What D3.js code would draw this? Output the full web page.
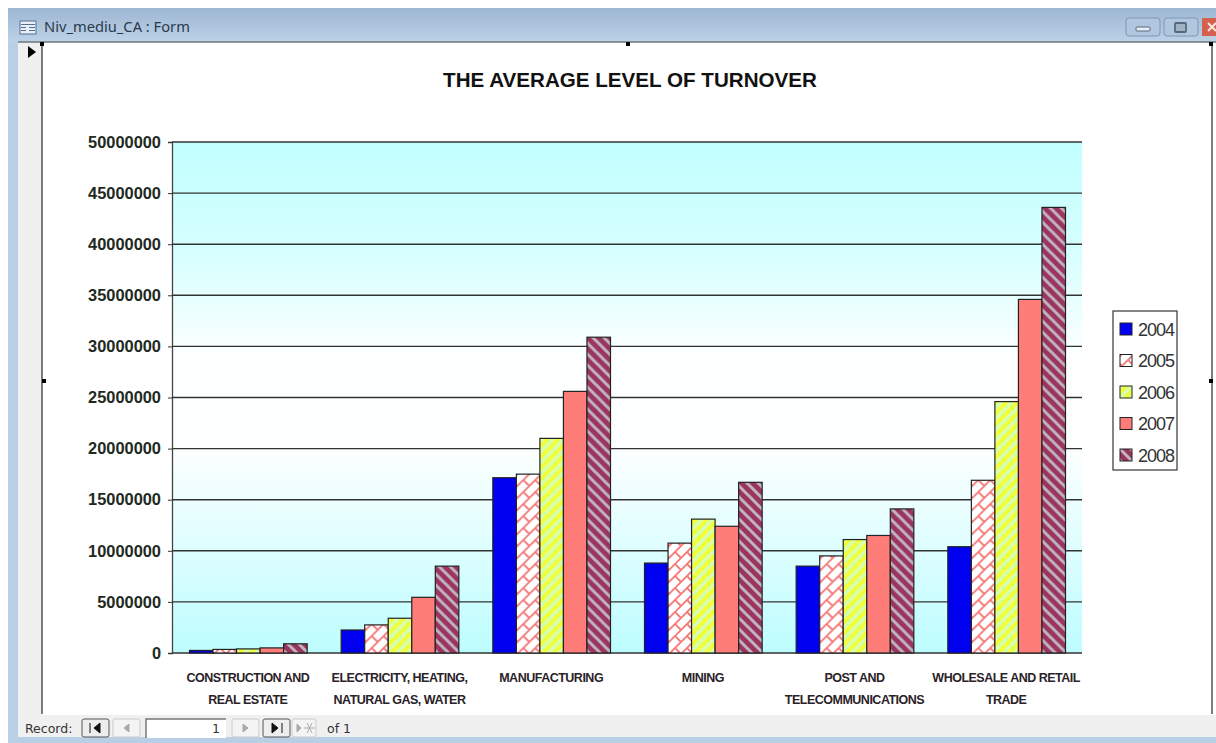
<!DOCTYPE html>
<html>
<head>
<meta charset="utf-8">
<style>
html,body{margin:0;padding:0;background:#fff;overflow:hidden}
svg{display:block}
text{font-family:"Liberation Sans",Arial,sans-serif}
</style>
<script src="https://cdn.jsdelivr.net/npm/d3@7"></script>
</head>
<body>
<svg id="c" width="1216" height="743"></svg>
<script>
const categories = [
  ["CONSTRUCTION AND", "REAL ESTATE"],
  ["ELECTRICITY, HEATING,", "NATURAL GAS, WATER"],
  ["MANUFACTURING"],
  ["MINING"],
  ["POST AND", "TELECOMMUNICATIONS"],
  ["WHOLESALE AND RETAIL", "TRADE"]
];
const years = ["2004", "2005", "2006", "2007", "2008"];
const v2004 = [250000, 2250000, 17150000, 8800000, 8500000, 10400000];
const v2005 = [350000, 2750000, 17500000, 10750000, 9500000, 16900000];
const v2006 = [400000, 3400000, 21000000, 13100000, 11100000, 24600000];
const v2007 = [500000, 5450000, 25600000, 12400000, 11500000, 34600000];
const v2008 = [900000, 8500000, 30900000, 16700000, 14100000, 43600000];
const seriesValues = [v2004, v2005, v2006, v2007, v2008];
const yTicks = d3.range(0, 50000001, 5000000);

const svg = d3.select("#c");
const defs = svg.append("defs");

// Plot background: pale cyan fading to white through the middle
const grad = defs.append("linearGradient").attr("id", "plotBg")
  .attr("x1", 0).attr("y1", 0).attr("x2", 0).attr("y2", 1);
[[0, "#c2ffff"], [0.2, "#d4ffff"], [0.42, "#fdffff"], [0.6, "#fdffff"], [1, "#bdfdff"]]
  .forEach(([o, c]) => grad.append("stop").attr("offset", o).attr("stop-color", c));

// Title bar gradient
const tb = defs.append("linearGradient").attr("id", "titleBar")
  .attr("x1", 0).attr("y1", 0).attr("x2", 0).attr("y2", 1);
[[0, "#9db6d2"], [1, "#bcd2e8"]]
  .forEach(([o, c]) => tb.append("stop").attr("offset", o).attr("stop-color", c));

// Hatch fills for the series
const p05 = defs.append("pattern").attr("id", "hatch2005").attr("patternUnits", "userSpaceOnUse")
  .attr("width", 24).attr("height", 24);
p05.append("rect").attr("width", 24).attr("height", 24).attr("fill", "#fff");
// Diagonal courses with staggered cross joints, giving a slanted brick look
p05.append("path")
  .attr("d", "M-1,1L1,-1 M-1,13L13,-1 M-1,25L25,-1 M11,25L25,11 M23,25L25,23 M0,0L6,6 M12,12L18,18 M12,0L18,6 M0,12L6,18")
  .attr("stroke", "#f47a7a").attr("stroke-width", 1.9).attr("fill", "none");

const p06 = defs.append("pattern").attr("id", "hatch2006").attr("patternUnits", "userSpaceOnUse")
  .attr("width", 11).attr("height", 11);
p06.append("rect").attr("width", 11).attr("height", 11).attr("fill", "#f0ff3c");
p06.append("path").attr("d", "M-2,2 L2,-2 M-1,12 L12,-1 M9,13 L13,9")
  .attr("stroke", "#d6ffb4").attr("stroke-width", 3.4).attr("fill", "none");

const p08 = defs.append("pattern").attr("id", "hatch2008").attr("patternUnits", "userSpaceOnUse")
  .attr("width", 11).attr("height", 11);
p08.append("rect").attr("width", 11).attr("height", 11).attr("fill", "#9b3560");
p08.append("path").attr("d", "M-2,9 L2,13 M-1,-1 L12,12 M9,-2 L13,2")
  .attr("stroke", "#bfb4bf").attr("stroke-width", 3).attr("fill", "none");

const fills = ["#0000f0", "url(#hatch2005)", "url(#hatch2006)", "#ff7d78", "url(#hatch2008)"];

// Form window chrome
svg.append("rect").attr("x", 8).attr("y", 8).attr("width", 1208).attr("height", 735).attr("fill", "#b9cfe6");
svg.append("rect").attr("x", 8).attr("y", 8).attr("width", 1208).attr("height", 34).attr("fill", "url(#titleBar)");
svg.append("rect").attr("x", 18).attr("y", 42).attr("width", 1198).attr("height", 695).attr("fill", "#f0f0f0");
svg.append("rect").attr("x", 42).attr("y", 42).attr("width", 1174).attr("height", 673).attr("fill", "#fff");
svg.append("path").attr("d", "M18,42H1216").attr("stroke", "#6f7478").attr("stroke-width", 1.5);
svg.append("path").attr("d", "M42,42V714M1212,42V714").attr("stroke", "#3a3a3a").attr("stroke-width", 1.3);

// Form icon and caption
const icon = svg.append("g").attr("transform", "translate(20,21)");
icon.append("rect").attr("width", 16).attr("height", 13).attr("fill", "#e8eef6").attr("stroke", "#56708f");
icon.append("path").attr("d", "M1,3.5H15M1,6.5H6M9,6.5H15M1,9.5H6M9,9.5H15").attr("stroke", "#56708f");
svg.append("text").attr("x", 44).attr("y", 32).attr("font-size", 14.7).attr("fill", "#2b3a4a")
  .style("font-family", "'Noto Sans',sans-serif").text("Niv_mediu_CA : Form");

// Window buttons
[[1126, 34], [1164, 34]].forEach(([x, w]) => {
  svg.append("rect").attr("x", x).attr("y", 18).attr("width", w).attr("height", 18).attr("rx", 3)
    .attr("fill", "#b0c7df").attr("stroke", "#7f97b3");
});
svg.append("rect").attr("x", 1136).attr("y", 27).attr("width", 14).attr("height", 4).attr("rx", 1)
  .attr("fill", "#e8eef4").attr("stroke", "#56687c");
svg.append("rect").attr("x", 1175).attr("y", 23).attr("width", 11).attr("height", 9).attr("rx", 1)
  .attr("fill", "#9fb2c6").attr("stroke", "#56687c").attr("stroke-width", 1.8);
svg.append("rect").attr("x", 1202).attr("y", 18).attr("width", 14).attr("height", 18).attr("fill", "#d5604f");
svg.append("path").attr("d", "M1208,23L1216,31M1208,31L1216,23").attr("stroke", "#f4e6e0").attr("stroke-width", 2);

// Record selector arrow and resize handles
svg.append("path").attr("d", "M28,46L36,52L28,58Z").attr("fill", "#000");
[[42, 44], [628, 44], [1211, 44], [44, 381], [1211, 381]].forEach(([x, y]) => {
  svg.append("rect").attr("x", x - 2).attr("y", y - 2).attr("width", 4).attr("height", 4).attr("fill", "#000");
});

// Chart title
svg.append("text").attr("x", 630).attr("y", 87).attr("text-anchor", "middle")
  .attr("font-size", 20.6).attr("font-weight", "bold").attr("fill", "#111")
  .text("THE AVERAGE LEVEL OF TURNOVER");

// Scales
const plot = { left: 172, right: 1082, top: 142, bottom: 653 };
const y = d3.scaleLinear().domain([0, 50000000]).range([plot.bottom, plot.top]);
const x0 = d3.scaleBand().domain(d3.range(categories.length)).range([plot.left, plot.right]);
const x1 = d3.scaleBand().domain(d3.range(years.length))
  .range([17.5, x0.bandwidth() - 16.5]);

svg.append("rect").attr("x", plot.left).attr("y", plot.top)
  .attr("width", plot.right - plot.left).attr("height", plot.bottom - plot.top)
  .attr("fill", "url(#plotBg)");

// Gridlines and value axis
const yAxis = d3.axisLeft(y).tickValues(yTicks).tickSize(4).tickPadding(7).tickFormat(d3.format("d"));
const yG = svg.append("g").attr("transform", `translate(${plot.left},0)`).call(yAxis);
yG.select(".domain").attr("stroke", "#444").attr("stroke-width", 1.3);
yG.selectAll(".tick line").attr("stroke", "#333");
yG.selectAll("text").attr("font-size", 16.4).attr("font-weight", "bold").attr("fill", "#1f2a1f")
  .style("font-family", "'Liberation Sans',Arial,sans-serif");

svg.append("g").selectAll("line").data(yTicks).join("line")
  .attr("x1", plot.left).attr("x2", plot.right)
  .attr("y1", d => y(d)).attr("y2", d => y(d))
  .attr("stroke", "#333").attr("stroke-width", 1.4);

// Bars
const groups = svg.append("g").selectAll("g").data(categories).join("g")
  .attr("transform", (d, i) => `translate(${x0(i)},0)`);
groups.each(function (d, ci) {
  d3.select(this).selectAll("rect").data(years).join("rect")
    .attr("x", (yr, si) => x1(si))
    .attr("y", (yr, si) => y(seriesValues[si][ci]))
    .attr("width", x1.bandwidth())
    .attr("height", (yr, si) => plot.bottom - y(seriesValues[si][ci]))
    .attr("fill", (yr, si) => fills[si])
    .attr("stroke", "#222").attr("stroke-width", 1.2);
});

// Category labels
groups.each(function (d) {
  const g = d3.select(this);
  d.forEach((line, i) => {
    g.append("text").attr("x", x0.bandwidth() / 2).attr("y", 682 + i * 22)
      .attr("text-anchor", "middle").attr("font-size", 12.5).attr("font-weight", "bold")
      .attr("fill", "#2a2228")
      .style("letter-spacing", "-0.5px").text(line);
  });
});

// Legend
const legend = svg.append("g");
legend.append("rect").attr("x", 1113).attr("y", 311).attr("width", 64).attr("height", 159)
  .attr("fill", "#fff").attr("stroke", "#444").attr("stroke-width", 1.3);
years.forEach((yr, i) => {
  const cy = 329 + i * 31.5;
  legend.append("rect").attr("x", 1120).attr("y", cy - 6).attr("width", 12).attr("height", 12)
    .attr("fill", fills[i]).attr("stroke", "#222");
  legend.append("text").attr("x", 1138).attr("y", cy + 6.5).attr("font-size", 18)
    .attr("fill", "#333").style("letter-spacing", "-1px").text(yr);
});

// Record navigation bar
svg.append("rect").attr("x", 18).attr("y", 715).attr("width", 1198).attr("height", 22).attr("fill", "#f0f0f0");
const navFont = "'DejaVu Sans',sans-serif";
svg.append("text").attr("x", 25).attr("y", 733).attr("font-size", 12.5).attr("fill", "#333")
  .style("font-family", navFont).text("Record:");
const navBtn = (x, w, glyph, on) => {
  svg.append("rect").attr("x", x).attr("y", 719).attr("width", w).attr("height", 18).attr("rx", 2)
    .attr("fill", on ? "#eee" : "#f4f4f4").attr("stroke", on ? "#555" : "#ccc");
  svg.append("path").attr("d", glyph).attr("fill", on ? "#111" : "#aaa").attr("stroke", on ? "#111" : "#aaa");
};
navBtn(82, 27, "M90,723V733M100,723L94,728L100,733Z", true);
navBtn(113, 27, "M129,724L124,728L129,732Z", false);
navBtn(232, 27, "M243,724L248,728L243,732Z", false);
navBtn(263, 27, "M272,723L278,728L272,733ZM282,723V733", true);
navBtn(292, 24, "M297,724L301,728L297,732ZM307,723L312,733M312,723L307,733M304,728H315", false);
svg.append("rect").attr("x", 146).attr("y", 719).attr("width", 80).attr("height", 19).attr("fill", "#fff");
svg.append("path").attr("d", "M146,738V719H226").attr("stroke", "#777").attr("stroke-width", 1.5).attr("fill", "none");
svg.append("text").attr("x", 220).attr("y", 733).attr("text-anchor", "end").attr("font-size", 12.5)
  .attr("fill", "#333").style("font-family", navFont).text("1");
svg.append("text").attr("x", 327).attr("y", 733).attr("font-size", 12.5).attr("fill", "#333")
  .style("font-family", navFont).text("of  1");
</script>
</body>
</html>
